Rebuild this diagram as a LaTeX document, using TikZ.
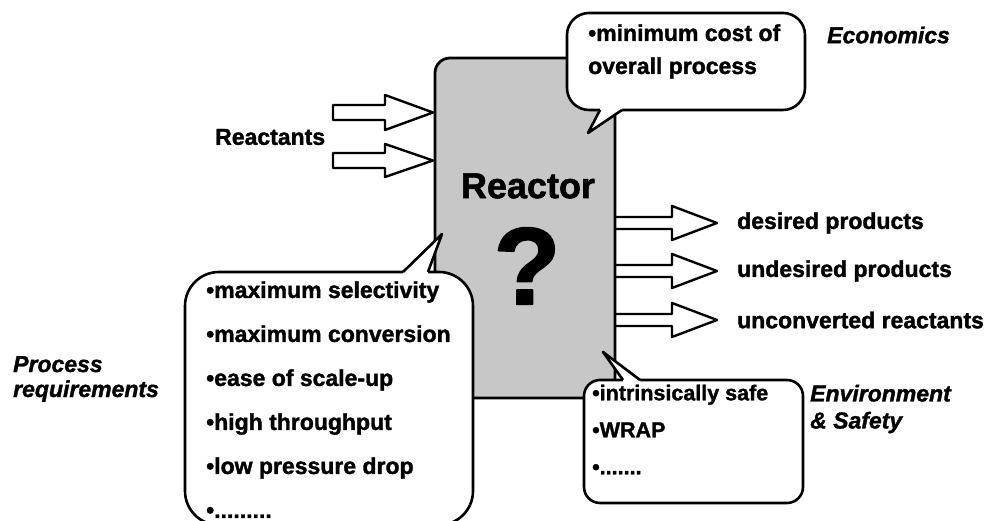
\documentclass[tikz,border=0pt]{standalone}
\usepackage{fontspec}
\setmainfont{Liberation Sans}[BoldFeatures={FakeBold=1.5},BoldItalicFeatures={FakeBold=1.5}]
\begin{document}
\begin{tikzpicture}[x=1pt,y=1pt,line join=round,
    txt/.style={font=\fontsize{23}{44}\selectfont\bfseries,align=left,inner sep=0pt},
    sidetxt/.style={font=\fontsize{23}{26}\selectfont\bfseries\itshape,align=left,inner sep=0pt},
    bubble/.style={draw,line width=2.6pt,fill=white,rounded corners=22pt},
    blockarrow/.style={draw,line width=2.4pt,fill=white}]
            \clip (0,0) rectangle (991,521);

            % feed and product arrows
            \draw[blockarrow] (333,401)--(385,401)--(385,391)--(433,408.5)--(385,426)--(385,416)--(333,416)--cycle;
            \draw[blockarrow] (333,353)--(385,353)--(385,344)--(433,360.5)--(385,377)--(385,368)--(333,368)--cycle;
            \fill[white] (615,292)--(672,292)--(672,281)--(717,298)--(672,315)--(672,304)--(615,304)--cycle;
            \draw[line width=2.4pt] (615,292)--(672,292)--(672,281)--(717,298)--(672,315)--(672,304)--(615,304);
            \fill[white] (615,244)--(672,244)--(672,233)--(717,250)--(672,267)--(672,256)--(615,256)--cycle;
            \draw[line width=2.4pt] (615,244)--(672,244)--(672,233)--(717,250)--(672,267)--(672,256)--(615,256);
            \fill[white] (615,195)--(672,195)--(672,184)--(717,201)--(672,218)--(672,207)--(615,207)--cycle;
            \draw[line width=2.4pt] (615,195)--(672,195)--(672,184)--(717,201)--(672,218)--(672,207)--(615,207);

            % reactor
            \draw[line width=2.8pt,fill=black!22,rounded corners=15pt] (435,123) rectangle (615,463);
            \node[font=\fontsize{36}{40}\selectfont\bfseries] (reactor) at (528,335) {Reactor};
            \node[font=\fontsize{110}{112}\selectfont\bfseries] (unknown) at (527,255) {?};

            % callouts
            \draw[bubble] (567,411) rectangle (805,508);
            \fill[white] (600,414)--(600,411)--(588,388)--(622,411)--(622,414)--cycle;
            \draw[line width=2.6pt] (600,411)--(588,388)--(622,411);
            \draw[bubble,rounded corners=34pt] (185,-4) rectangle (473,249);
            \fill[white] (403,245)--(403,249)--(442,287)--(428,249)--(428,245)--cycle;
            \draw[line width=2.6pt] (403,249)--(442,287)--(428,249);
            \draw[bubble,rounded corners=16pt] (584,18) rectangle (803,141);
            \fill[white] (623,137)--(623,141)--(603,169)--(640,141)--(640,137)--cycle;
            \draw[line width=2.6pt] (623,141)--(603,169)--(640,141);

            % texts
            \node[txt,anchor=west] (reactants) at (215,384) {Reactants};
            \node[txt,anchor=west] (desired) at (737,298) {desired products};
            \node[txt,anchor=west] (undesired) at (737,250) {undesired products};
            \node[txt,anchor=west] (unconverted) at (737,201) {unconverted reactants};
            \node[txt,anchor=west,font=\fontsize{23}{33}\selectfont\bfseries] (costtxt) at (588,469.5) {•minimum cost of\\overall process};
            \node[txt,anchor=west] (reqtxt) at (206,121.4) {•maximum selectivity\\•maximum conversion\\•ease of scale-up\\•high throughput\\•low pressure drop\\•.........};
            \node[txt,anchor=west,font=\fontsize{21.5}{37}\selectfont\bfseries] (safetxt) at (592,91.5) {•intrinsically safe\\•WRAP\\•.......};
            \node[sidetxt,anchor=west] (economics) at (827,486) {Economics};
            \node[sidetxt,anchor=west,font=\fontsize{23}{25}\selectfont\bfseries\itshape] (process) at (13,142) {Process\\requirements};
            \node[sidetxt,anchor=west,font=\fontsize{23}{27}\selectfont\bfseries\itshape] (envsafety) at (810,112) {Environment\\\& Safety};
        \end{tikzpicture}
\end{document}
